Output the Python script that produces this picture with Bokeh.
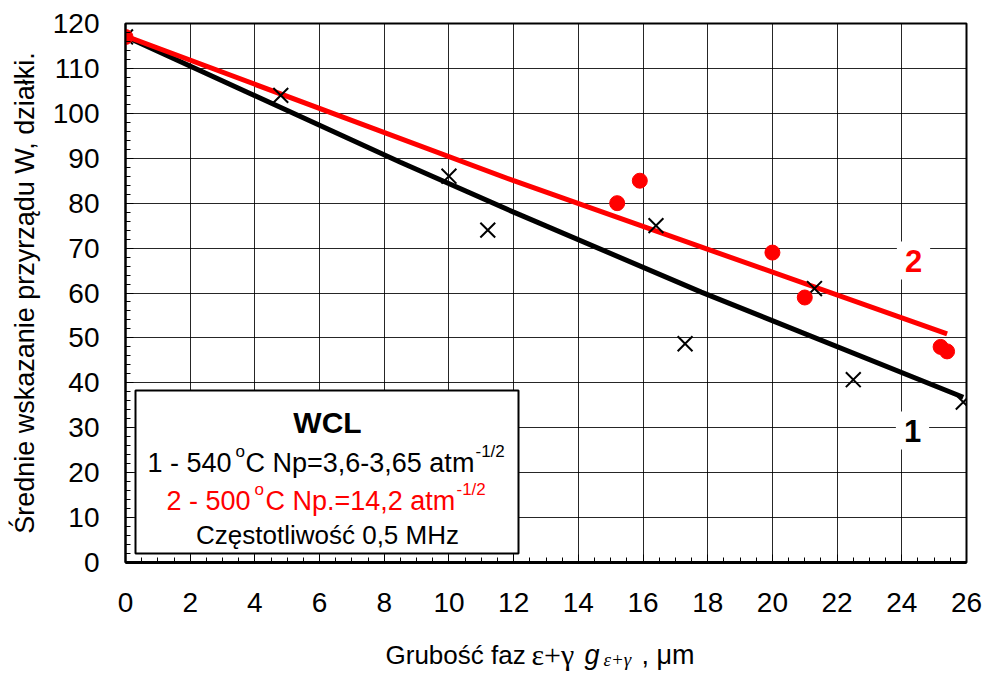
import numpy as np
from bokeh.plotting import figure
from bokeh.layouts import column
from bokeh.models import Range1d, FixedTicker, Label, BoxAnnotation
from bokeh.embed import file_html
from bokeh.resources import INLINE

# ---------------- data ----------------
# series 1: 540 °C  (black crosses) and its trend line
x1 = [0.0, 4.8, 10.0, 11.2, 16.4, 17.3, 21.3, 22.5, 25.9]
y1 = [117.0, 104.0, 86.0, 74.0, 75.0, 48.7, 61.0, 40.7, 35.7]
line1_x = [0.0, 8.5, 12.0, 17.8, 25.9]
line1_y = [117.1, 89.1, 78.0, 60.2, 36.8]

# series 2: 500 °C  (red dots) and its trend line
x2 = [0.0, 15.2, 15.9, 20.0, 21.0, 25.2, 25.4]
y2 = [117.0, 80.0, 85.0, 69.0, 59.0, 48.0, 47.0]
line2_x = [0.0, 12.0, 25.4]
line2_y = [117.2, 85.0, 50.9]

x_ticks = [0, 2, 4, 6, 8, 10, 12, 14, 16, 18, 20, 22, 24, 26]
x_tick_labels = ["0", "2", "4", "6", "8", "10", "12", "14", "16", "18", "20", "22", "24", "26"]
y_ticks = [0, 10, 20, 30, 40, 50, 60, 70, 80, 90, 100, 110, 120]
y_tick_labels = ["0", "10", "20", "30", "40", "50", "60", "70", "80", "90", "100", "110", "120"]

# ---------------- layout ----------------
W, H = 986, 678
H2 = 56                      # strip below the chart holding the x-axis title
H1 = H - H2
FL, FR, FT, FB = 125, 966, 23, 562
XMIN, XMAX, YMIN, YMAX = 0, 26, 0, 120


def dx(px):
    return XMIN + (px - FL) / (FR - FL) * (XMAX - XMIN)


def dy(py):
    return YMIN + (FB - py) / (FB - FT) * (YMAX - YMIN)


FONT = "Liberation Sans"
SERIF = "Liberation Serif"
RED = "#ff0000"

p = figure(width=W, height=H1, x_range=Range1d(XMIN, XMAX), y_range=Range1d(YMIN, YMAX),
           output_backend="svg", toolbar_location=None,
           min_border_left=FL, min_border_right=W - FR, min_border_top=FT,
           min_border_bottom=H1 - FB)
p.background_fill_color = "white"
p.border_fill_color = "white"
p.outline_line_color = "black"
p.outline_line_width = 2

# axes
p.xaxis.ticker = FixedTicker(ticks=x_ticks, minor_ticks=list(np.arange(0, 26.01, 0.5)))
p.yaxis.ticker = FixedTicker(ticks=y_ticks, minor_ticks=list(np.arange(0, 120.1, 2)))
p.xaxis.major_label_overrides = dict(zip(x_ticks, x_tick_labels))
p.yaxis.major_label_overrides = dict(zip(y_ticks, y_tick_labels))
for ax in (p.xaxis, p.yaxis):
    ax.major_tick_in = 8
    ax.major_tick_out = 0
    ax.minor_tick_in = 5
    ax.minor_tick_out = 0
    ax.major_tick_line_color = "black"
    ax.minor_tick_line_color = "black"
    ax.axis_line_color = "black"
    ax.major_label_text_font = FONT
    ax.major_label_text_font_size = "28px"
    ax.major_label_text_color = "black"
p.xaxis.axis_line_width = 3
p.yaxis.axis_line_width = 2
p.xaxis.major_label_standoff = 30
p.yaxis.major_label_standoff = 26
p.yaxis.axis_label = "Średnie wskazanie przyrządu W, działki."
p.yaxis.axis_label_text_font = FONT
p.yaxis.axis_label_text_font_size = "27px"
p.yaxis.axis_label_text_font_style = "normal"
p.yaxis.axis_label_text_color = "black"
p.yaxis.axis_label_standoff = 10

# grid
p.xgrid.grid_line_color = "black"
p.ygrid.grid_line_color = "black"
p.xgrid.grid_line_alpha = 0.85
p.ygrid.grid_line_alpha = 0.85
p.xgrid.grid_line_width = 1
p.ygrid.grid_line_width = 1

# glyphs
p.line(line1_x, line1_y, line_color="black", line_width=5)
p.line(line2_x, line2_y, line_color=RED, line_width=5)
p.scatter(x1, y1, marker="x", size=21, line_color="black", line_width=2)
p.scatter(x2, y2, marker="circle", size=15, fill_color=RED, line_color=RED)

# curve labels
for txt, col, cx, cy in (("2", RED, 913, 260), ("1", "black", 912, 430)):
    p.add_layout(Label(x=dx(cx), y=dy(cy), text=txt, text_color=col, text_font=FONT,
                       text_font_size="31px", text_font_style="bold", text_align="center",
                       text_baseline="middle", background_fill_color="white",
                       background_fill_alpha=1.0, padding=8))

# legend box
p.add_layout(BoxAnnotation(left=dx(135), right=dx(518), top=dy(390), bottom=dy(553),
                           fill_color="white", fill_alpha=1.0, line_color="black",
                           line_width=2, line_alpha=1.0))


def lab(fig, text, x, y, size, color="black", font=FONT, style="normal", align="left"):
    fig.add_layout(Label(x=x, y=y, text=text, text_color=color, text_font=font,
                         text_font_size=size, text_font_style=style, text_align=align,
                         text_baseline="alphabetic"))


def blab(text, px, py, size, **kw):
    lab(p, text, dx(px), dy(py), size, **kw)


blab("WCL", 327, 422, "30px", style="bold", align="center")
blab("1 - 540", 147, 462, "27px")
blab("o", 235, 451, "17px")
blab("C Np=3,6-3,65 atm", 245, 462, "27px")
blab("-1/2", 475, 451, "17px")
blab("2 - 500", 166, 500, "27px", color=RED)
blab("o", 254, 489, "17px", color=RED)
blab("C Np.=14,2 atm", 265, 500, "27px", color=RED)
blab("-1/2", 456, 489, "17px", color=RED)
blab("Częstotliwość 0,5 MHz", 327, 534, "26px", align="center")

# ---------------- x-axis title strip ----------------
# the column aligns this strip's frame with the chart frame (FL..FR)
p2 = figure(width=W, height=H2, x_range=Range1d(FL, FR), y_range=Range1d(H2, 0),
            output_backend="svg", toolbar_location=None,
            x_axis_location=None, y_axis_location=None,
            min_border_left=FL, min_border_right=W - FR, min_border_top=0, min_border_bottom=0)
p2.grid.visible = False
p2.outline_line_color = None
p2.background_fill_color = "white"
p2.border_fill_color = "white"

YSHIFT = 8


def tlab(text, px, py, size, **kw):
    lab(p2, text, px, py - H1 - YSHIFT, size, **kw)


tlab("Grubość faz", 385, 662, "26px")
tlab("ε+γ", 531, 662, "30px", font=SERIF)
tlab("g", 584, 662, "27px", style="italic")
tlab("ε+γ", 603, 667, "19px", font=SERIF, style="italic")
tlab(", μm", 641, 662, "27px")

layout = column(p, p2, spacing=0)
open("out.html", "w").write(file_html(layout, INLINE))
